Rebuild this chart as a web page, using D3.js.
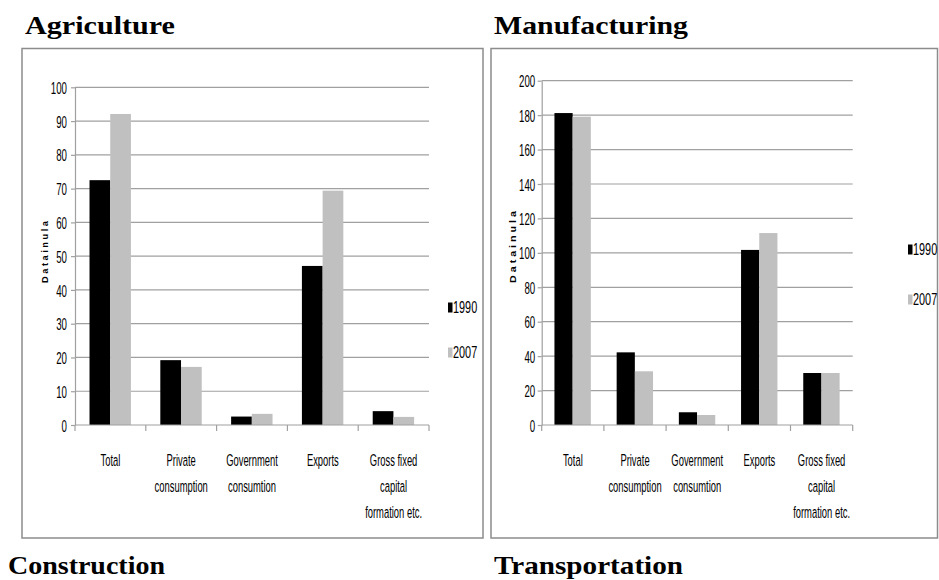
<!DOCTYPE html>
<html><head><meta charset="utf-8">
<script src="https://cdn.jsdelivr.net/npm/d3@7"></script>
<style>body{margin:0;background:#fff}svg{display:block}</style>
</head><body>
<svg id="c" width="939" height="580"></svg>
<script>
const categories = [["Total"],["Private","consumption"],["Government","consumtion"],["Exports"],["Gross fixed","capital","formation etc."]];
const series = ["1990","2007"];
const agriculture1990 = [72.5, 19.2, 2.5, 47.1, 4.1];
const agriculture2007 = [92.1, 17.2, 3.3, 69.4, 2.4];
const manufacturing1990 = [181.2, 42.2, 7.4, 101.7, 30.2];
const manufacturing2007 = [179.1, 31.2, 5.8, 111.5, 30.2];
const agricultureTicks = [0,10,20,30,40,50,60,70,80,90,100];
const manufacturingTicks = [0,20,40,60,80,100,120,140,160,180,200];
const axisTitle = "D a t a i n u l a";
const titles = ["Agriculture","Manufacturing","Construction","Transportation"];
const colors = {"1990":"#000000","2007":"#c0c0c0"};

const svg = d3.select("#c");
const NARROW = 0.57;
const FONT = "'Liberation Sans', Arial, sans-serif";

// panel boxes
svg.append("rect").attr("x",22).attr("y",48.5).attr("width",461).attr("height",489.5)
  .attr("fill","none").attr("stroke","#8c8c8c").attr("stroke-width",1.5);
svg.append("rect").attr("x",491).attr("y",48.5).attr("width",446.5).attr("height",489.5)
  .attr("fill","none").attr("stroke","#8c8c8c").attr("stroke-width",1.5);

// titles
const titlePos = [[25,34,150],[494,34,194],[8,574,157],[494,574,189]];
titles.forEach((t,i)=>{
  svg.append("text").attr("x",titlePos[i][0]).attr("y",titlePos[i][1])
    .attr("textLength",titlePos[i][2]).attr("lengthAdjust","spacingAndGlyphs")
    .attr("font-family","'Liberation Serif','Times New Roman',serif")
    .attr("font-weight","bold").attr("font-size",26).attr("fill","#000").text(t);
});

function narrowText(g, x, y, str, size, anchor, sx){
  return g.append("text").attr("transform",`translate(${x},${y}) scale(${sx||NARROW},1)`)
    .attr("text-anchor",anchor||"middle").attr("font-family",FONT).attr("font-size",size)
    .attr("fill","#000").text(str);
}

function chart(cfg){
  const g = svg.append("g");
  const x0 = d3.scaleBand().domain(d3.range(categories.length)).range([cfg.left,cfg.right]).padding(0);
  const x1 = d3.scaleBand().domain(series).range([x0.bandwidth()*0.205, x0.bandwidth()*0.79]).padding(0);
  const y = d3.scaleLinear().domain([0,cfg.max]).range([cfg.bottom,cfg.top]);

  // gridlines
  g.selectAll("line.grid").data(cfg.ticks.filter(d=>d>0)).join("line")
    .attr("x1",cfg.left).attr("x2",cfg.right).attr("y1",d=>y(d)).attr("y2",d=>y(d))
    .attr("stroke","#a0a0a0").attr("stroke-width",1.2);

  // y axis
  const ya = g.append("g").attr("transform",`translate(${cfg.left},0)`)
    .call(d3.axisLeft(y).tickValues(cfg.ticks).tickSize(4).tickSizeOuter(0).tickPadding(0));
  ya.select(".domain").attr("stroke","#a0a0a0").attr("stroke-width",1.2);
  ya.selectAll(".tick line").attr("stroke","#a0a0a0").attr("stroke-width",1.2);
  ya.selectAll(".tick text").attr("x",-cfg.labelGap/NARROW).attr("dy","0.36em")
    .attr("transform",`scale(${NARROW},1)`).attr("font-family",FONT).attr("font-size",17).attr("fill","#000");

  // bars
  const data = categories.map((c,i)=>({i, vals: series.map((s,k)=>({s, v: cfg.values[k][i]}))}));
  g.selectAll("g.cat").data(data).join("g").attr("transform",d=>`translate(${x0(d.i)},0)`)
    .selectAll("rect").data(d=>d.vals).join("rect")
    .attr("x",d=>x1(d.s)).attr("width",x1.bandwidth())
    .attr("y",d=>y(d.v)).attr("height",d=>y(0)-y(d.v)).attr("fill",d=>colors[d.s]);

  // x axis line and ticks at band boundaries
  g.append("line").attr("x1",cfg.left).attr("x2",cfg.right).attr("y1",y(0)).attr("y2",y(0))
    .attr("stroke","#a0a0a0").attr("stroke-width",1.2);
  const edges = d3.range(categories.length).map(i=>x0(i)).concat([cfg.right]);
  g.selectAll("line.xt").data(edges).join("line")
    .attr("x1",d=>d).attr("x2",d=>d).attr("y1",y(0)).attr("y2",y(0)+6)
    .attr("stroke","#a0a0a0").attr("stroke-width",1.2);

  // category labels
  categories.forEach((lines,i)=>{
    lines.forEach((ln,j)=>{
      narrowText(g, x0(i)+x0.bandwidth()/2, 466+26*j, ln, 16.5, "middle", 0.57);
    });
  });

  // axis title
  g.append("text").attr("transform",`translate(${cfg.titleX},${cfg.titleY}) rotate(-90)`)
    .attr("text-anchor","middle").attr("font-family",FONT).attr("font-weight","bold")
    .attr("font-size",8.5).attr("textLength",cfg.titleLen).attr("lengthAdjust","spacingAndGlyphs")
    .attr("fill","#000").text(axisTitle);

  // legend
  series.forEach((s,k)=>{
    const ly = cfg.legY[k];
    g.append("rect").attr("x",cfg.legX).attr("y",ly-5).attr("width",4.5).attr("height",10)
      .attr("fill",colors[s]);
    narrowText(g, cfg.legX+5, ly+5.5, s, 16, "start", 0.68);
  });
}

chart({left:75, right:429, top:87.3, bottom:425, max:100, ticks:agricultureTicks,
  values:[agriculture1990, agriculture2007], labelGap:8, titleX:48, titleY:252, titleLen:62,
  legX:448, legY:[307.5,352.5]});
chart({left:541.7, right:852.7, top:80.7, bottom:425, max:200, ticks:manufacturingTicks,
  values:[manufacturing1990, manufacturing2007], labelGap:6.5, titleX:516, titleY:247, titleLen:72,
  legX:908, legY:[249.5,299.5]});
</script>
</body></html>
